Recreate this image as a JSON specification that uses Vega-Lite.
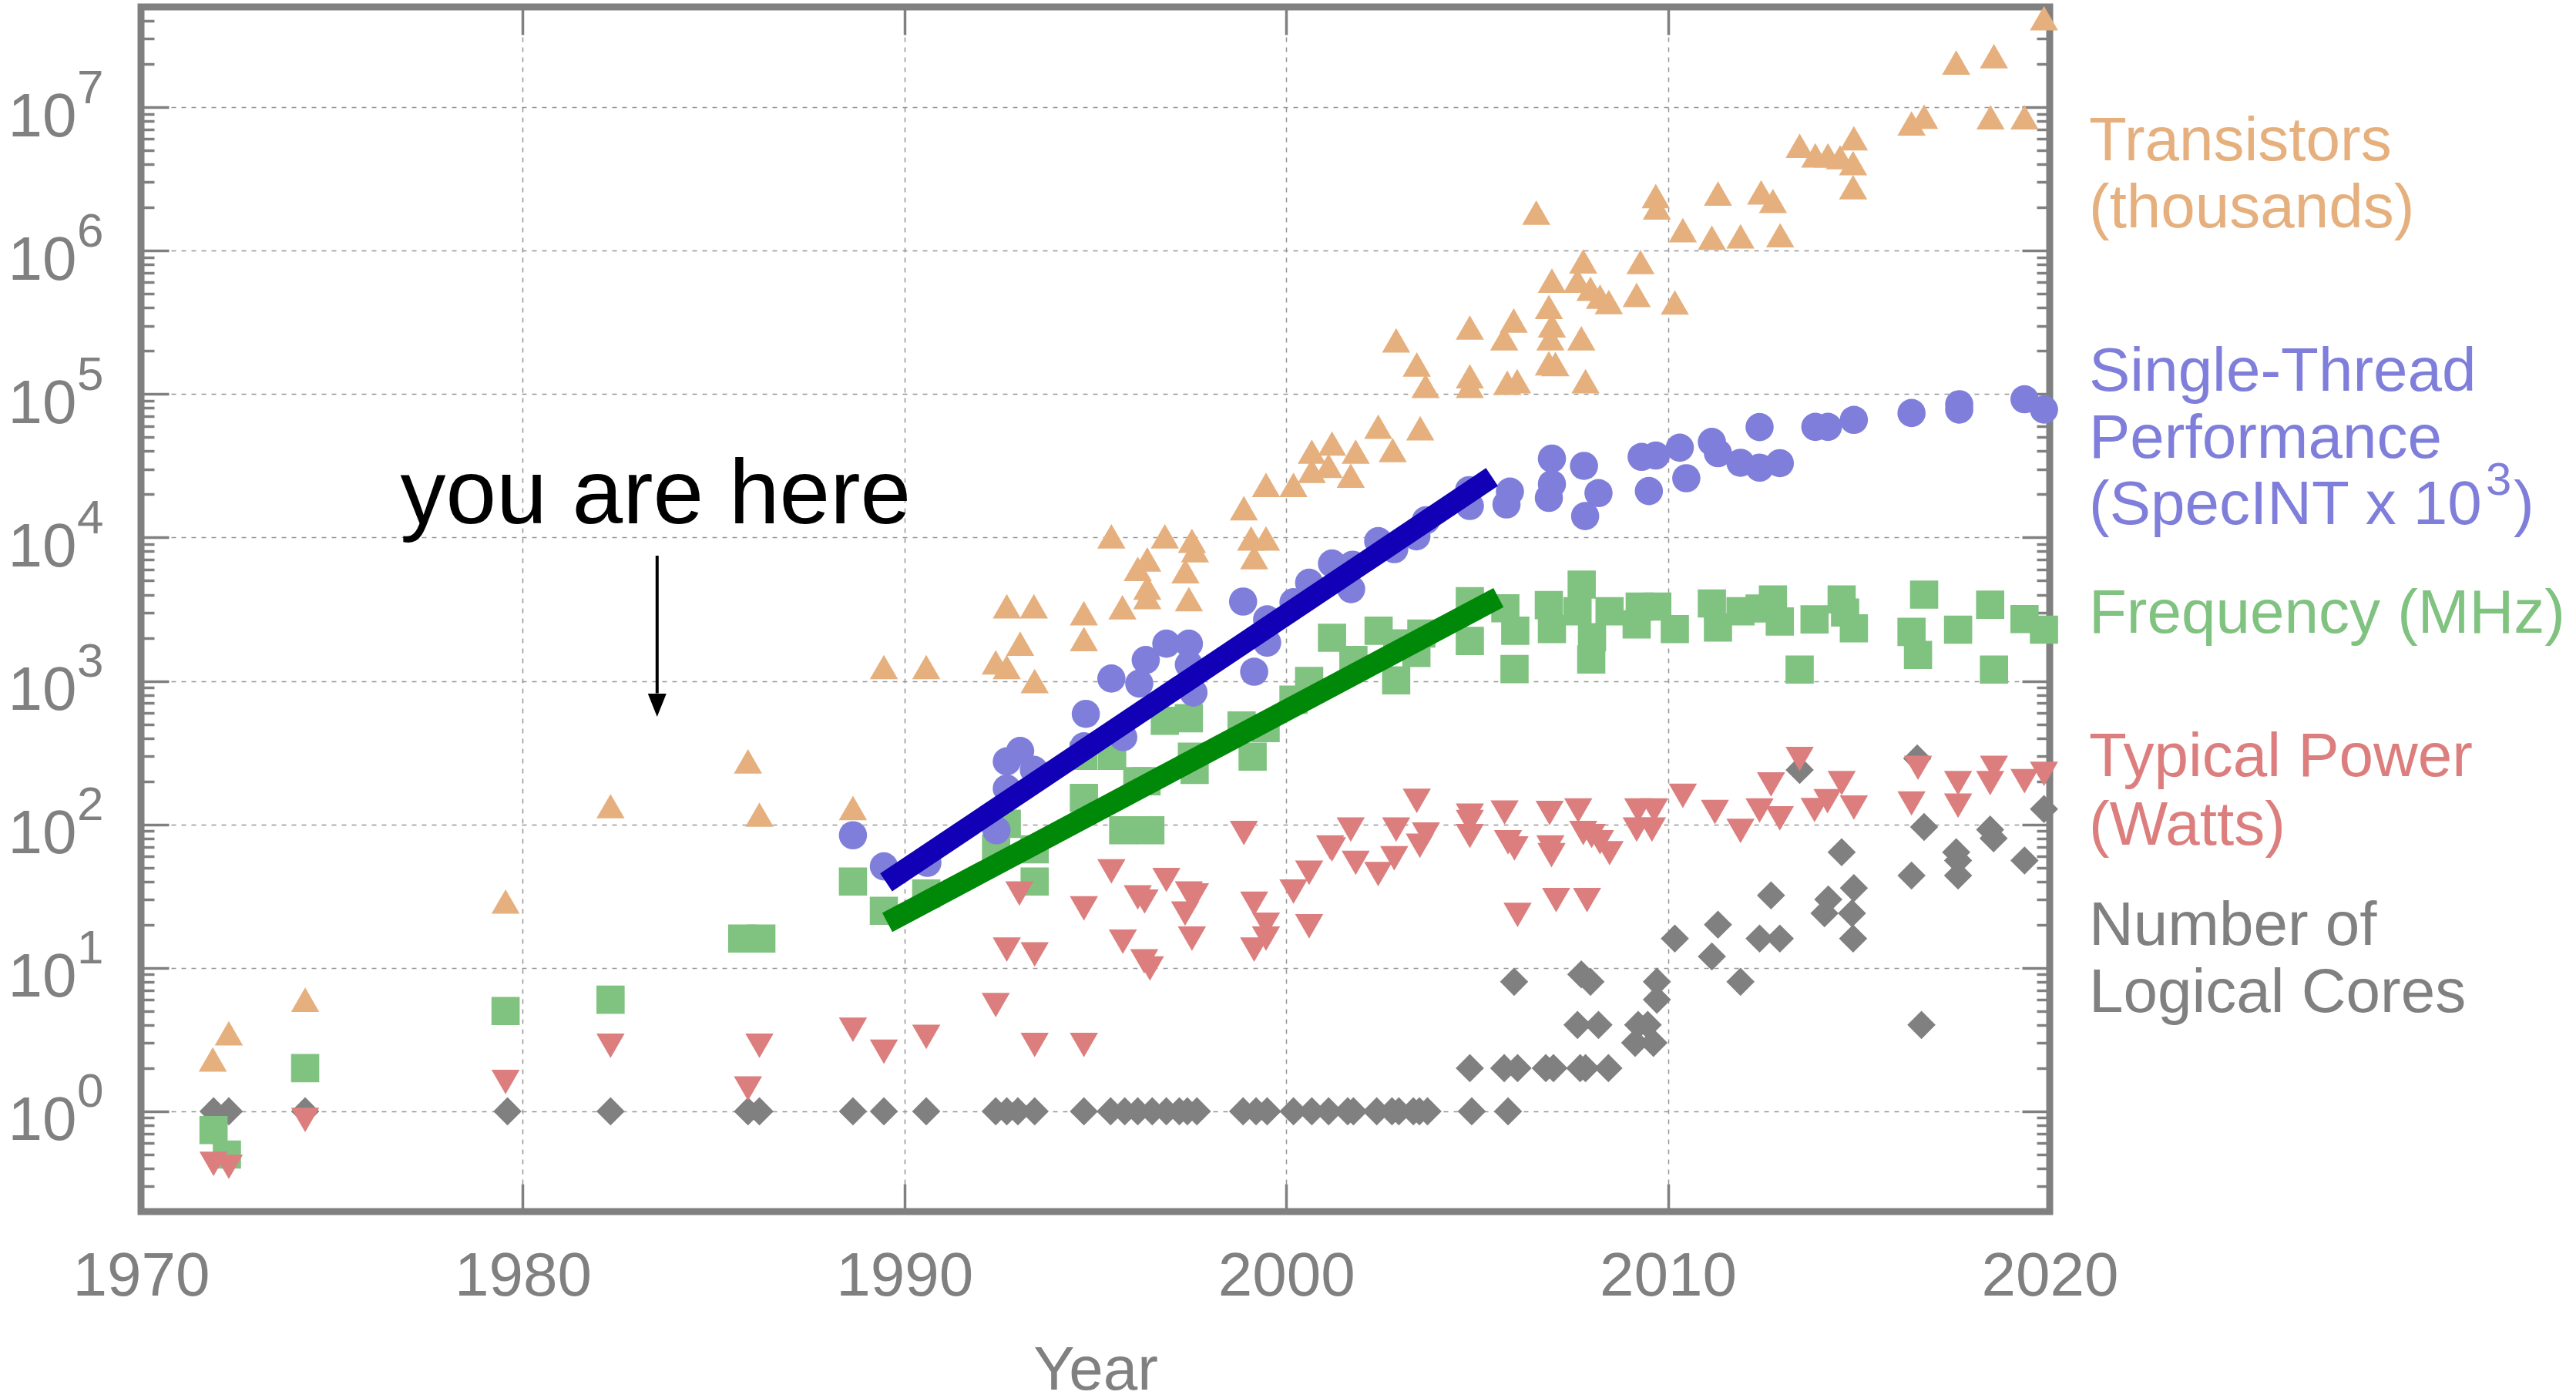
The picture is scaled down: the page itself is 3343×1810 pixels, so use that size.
{
  "$schema": "https://vega.github.io/schema/vega-lite/v6.json",
  "width": 2477,
  "height": 1563,
  "autosize": {"type": "none"},
  "padding": {"left": 183, "top": 9, "right": 683, "bottom": 238},
  "background": "white",
  "config": {
    "view": {"stroke": "#808080", "strokeWidth": 9},
    "axis": {
      "labelFont": "Liberation Sans",
      "titleFont": "Liberation Sans",
      "labelColor": "#808080",
      "titleColor": "#808080",
      "tickColor": "#808080",
      "tickWidth": 3.5,
      "gridColor": "#959595",
      "gridWidth": 1.5,
      "gridDash": [6, 7],
      "labelFontSize": 80,
      "titleFontSize": 80,
      "titleFontWeight": "normal",
      "labelFlush": false,
      "labelOverlap": false,
      "domain": false
    }
  },
  "datasets": {
    "pts": [
      {"series":"cores","year":1971.9,"value":1},{"series":"cores","year":1972.3,"value":1},{"series":"cores","year":1974.3,"value":1},{"series":"cores","year":1979.6,"value":1},{"series":"cores","year":1982.3,"value":1},{"series":"cores","year":1985.9,"value":1},{"series":"cores","year":1986.2,"value":1},{"series":"cores","year":1988.65,"value":1},{"series":"cores","year":1989.46,"value":1},{"series":"cores","year":1990.57,"value":1},{"series":"cores","year":1992.39,"value":1},{"series":"cores","year":1992.68,"value":1},{"series":"cores","year":1992.97,"value":1},{"series":"cores","year":1993.41,"value":1},{"series":"cores","year":1994.7,"value":1},{"series":"cores","year":1995.4,"value":1},{"series":"cores","year":1995.77,"value":1},{"series":"cores","year":1996.11,"value":1},{"series":"cores","year":1996.49,"value":1},{"series":"cores","year":1996.86,"value":1},{"series":"cores","year":1997.2,"value":1},{"series":"cores","year":1997.41,"value":1},{"series":"cores","year":1997.66,"value":1},{"series":"cores","year":1998.87,"value":1},{"series":"cores","year":1999.21,"value":1},{"series":"cores","year":1999.5,"value":1},{"series":"cores","year":2000.19,"value":1},{"series":"cores","year":2000.67,"value":1},{"series":"cores","year":2001.11,"value":1},{"series":"cores","year":2001.61,"value":1},{"series":"cores","year":2001.76,"value":1},{"series":"cores","year":2002.37,"value":1},{"series":"cores","year":2002.77,"value":1},{"series":"cores","year":2002.95,"value":1},{"series":"cores","year":2003.33,"value":1},{"series":"cores","year":2003.49,"value":1},{"series":"cores","year":2003.7,"value":1},{"series":"cores","year":2004.86,"value":1},{"series":"cores","year":2005.81,"value":1},
      {"series":"cores","year":2004.81,"value":2},{"series":"cores","year":2005.71,"value":2},{"series":"cores","year":2006.06,"value":2},{"series":"cores","year":2006.8,"value":2},{"series":"cores","year":2007.0,"value":2},{"series":"cores","year":2007.7,"value":2},{"series":"cores","year":2007.84,"value":2},{"series":"cores","year":2008.44,"value":2},
      {"series":"cores","year":2005.97,"value":8},{"series":"cores","year":2007.73,"value":9},{"series":"cores","year":2007.97,"value":8},{"series":"cores","year":2007.63,"value":4},{"series":"cores","year":2008.18,"value":4},{"series":"cores","year":2009.22,"value":4},{"series":"cores","year":2009.47,"value":4},{"series":"cores","year":2009.14,"value":3},{"series":"cores","year":2009.62,"value":3},{"series":"cores","year":2009.71,"value":8},{"series":"cores","year":2009.71,"value":6},{"series":"cores","year":2010.18,"value":16},{"series":"cores","year":2011.31,"value":20},{"series":"cores","year":2011.15,"value":12},{"series":"cores","year":2011.9,"value":8},{"series":"cores","year":2012.4,"value":16},{"series":"cores","year":2012.7,"value":32},{"series":"cores","year":2012.93,"value":16},
      {"series":"cores","year":2013.45,"value":240},{"series":"cores","year":2014.1,"value":24},{"series":"cores","year":2014.2,"value":30},{"series":"cores","year":2014.55,"value":64},{"series":"cores","year":2014.87,"value":36},{"series":"cores","year":2014.82,"value":24},{"series":"cores","year":2014.85,"value":16},{"series":"cores","year":2016.38,"value":44},{"series":"cores","year":2016.53,"value":288},{"series":"cores","year":2016.71,"value":96},{"series":"cores","year":2016.64,"value":4},{"series":"cores","year":2017.55,"value":64},{"series":"cores","year":2017.6,"value":56},{"series":"cores","year":2017.6,"value":44},{"series":"cores","year":2018.44,"value":92},{"series":"cores","year":2018.53,"value":80},{"series":"cores","year":2019.34,"value":56},{"series":"cores","year":2019.85,"value":128},

      {"series":"transistors","year":1971.88,"value":2.3},{"series":"transistors","year":1972.3,"value":3.5},{"series":"transistors","year":1974.3,"value":6},{"series":"transistors","year":1979.55,"value":29},{"series":"transistors","year":1982.3,"value":134},{"series":"transistors","year":1985.9,"value":275},{"series":"transistors","year":1986.2,"value":117},{"series":"transistors","year":1988.65,"value":130},{"series":"transistors","year":1989.46,"value":1250},{"series":"transistors","year":1990.57,"value":1250},{"series":"transistors","year":1992.39,"value":1350},{"series":"transistors","year":1992.68,"value":1250},{"series":"transistors","year":1992.68,"value":3320},{"series":"transistors","year":1993.39,"value":3320},{"series":"transistors","year":1993.03,"value":1820},{"series":"transistors","year":1993.41,"value":1000},{"series":"transistors","year":1994.7,"value":2970},{"series":"transistors","year":1994.7,"value":1960},{"series":"transistors","year":1995.42,"value":10200},{"series":"transistors","year":1995.71,"value":3270},{"series":"transistors","year":1996.11,"value":6050},{"series":"transistors","year":1996.36,"value":7030},{"series":"transistors","year":1996.36,"value":4480},{"series":"transistors","year":1996.36,"value":3850},{"series":"transistors","year":1996.82,"value":10200},{"series":"transistors","year":1997.53,"value":9480},{"series":"transistors","year":1997.61,"value":8170},{"series":"transistors","year":1997.36,"value":5830},{"series":"transistors","year":1997.45,"value":3720},{"series":"transistors","year":1998.89,"value":16000},{"series":"transistors","year":1999.16,"value":7300},{"series":"transistors","year":1999.08,"value":9850},{"series":"transistors","year":1999.47,"value":9850},{"series":"transistors","year":1999.47,"value":23300},{"series":"transistors","year":2000.19,"value":23300},{"series":"transistors","year":2000.67,"value":39700},{"series":"transistors","year":2000.67,"value":29200},{"series":"transistors","year":2001.11,"value":31600},{"series":"transistors","year":2001.2,"value":45200},{"series":"transistors","year":2001.82,"value":39700},{"series":"transistors","year":2001.69,"value":27000},{"series":"transistors","year":2002.41,"value":59300},{"series":"transistors","year":2002.79,"value":40700},{"series":"transistors","year":2003.51,"value":57800},{"series":"transistors","year":2002.88,"value":237000},{"series":"transistors","year":2003.42,"value":161000},{"series":"transistors","year":2003.65,"value":114000},{"series":"transistors","year":2004.81,"value":291000},{"series":"transistors","year":2004.81,"value":133000},{"series":"transistors","year":2004.81,"value":114000},{"series":"transistors","year":2005.71,"value":245000},{"series":"transistors","year":2005.96,"value":326000},{"series":"transistors","year":2005.79,"value":120000},{"series":"transistors","year":2006.05,"value":123000},{"series":"transistors","year":2006.88,"value":405000},{"series":"transistors","year":2006.96,"value":301000},{"series":"transistors","year":2006.92,"value":245000},{"series":"transistors","year":2006.88,"value":164000},{"series":"transistors","year":2007.05,"value":162000},{"series":"transistors","year":2006.96,"value":618000},{"series":"transistors","year":2006.55,"value":1840000},{"series":"transistors","year":2007.63,"value":618000},{"series":"transistors","year":2007.78,"value":841000},{"series":"transistors","year":2007.97,"value":543000},{"series":"transistors","year":2008.22,"value":478000},{"series":"transistors","year":2008.45,"value":438000},{"series":"transistors","year":2007.73,"value":245000},{"series":"transistors","year":2007.84,"value":123000},{"series":"transistors","year":2009.18,"value":491000},{"series":"transistors","year":2009.28,"value":833000},{"series":"transistors","year":2010.18,"value":436000},{"series":"transistors","year":2009.68,"value":2400000},{"series":"transistors","year":2009.71,"value":2000000},{"series":"transistors","year":2010.39,"value":1390000},{"series":"transistors","year":2011.15,"value":1230000},{"series":"transistors","year":2011.31,"value":2500000},{"series":"transistors","year":2011.9,"value":1260000},{"series":"transistors","year":2012.44,"value":2550000},{"series":"transistors","year":2012.75,"value":2220000},{"series":"transistors","year":2012.94,"value":1280000},{"series":"transistors","year":2013.45,"value":5380000},{"series":"transistors","year":2013.86,"value":4610000},{"series":"transistors","year":2014.19,"value":4610000},{"series":"transistors","year":2014.51,"value":4480000},{"series":"transistors","year":2014.87,"value":6080000},{"series":"transistors","year":2014.85,"value":4080000},{"series":"transistors","year":2014.85,"value":2770000},{"series":"transistors","year":2016.38,"value":7710000},{"series":"transistors","year":2016.71,"value":8600000},{"series":"transistors","year":2017.55,"value":20500000},{"series":"transistors","year":2018.54,"value":22700000},{"series":"transistors","year":2018.45,"value":8510000},{"series":"transistors","year":2019.34,"value":8510000},{"series":"transistors","year":2019.85,"value":41700000},

      {"series":"frequency","year":1971.9,"value":0.74},{"series":"frequency","year":1972.25,"value":0.5},{"series":"frequency","year":1974.3,"value":2},{"series":"frequency","year":1979.55,"value":5},{"series":"frequency","year":1982.3,"value":6},{"series":"frequency","year":1985.75,"value":16},{"series":"frequency","year":1986.25,"value":16},{"series":"frequency","year":1988.65,"value":40},{"series":"frequency","year":1989.46,"value":25},{"series":"frequency","year":1990.57,"value":33},{"series":"frequency","year":1992.4,"value":68},{"series":"frequency","year":1992.68,"value":101},{"series":"frequency","year":1993.41,"value":67},{"series":"frequency","year":1993.41,"value":40},{"series":"frequency","year":1994.7,"value":153},{"series":"frequency","year":1994.69,"value":301},{"series":"frequency","year":1995.44,"value":301},{"series":"frequency","year":1995.73,"value":91},{"series":"frequency","year":1996.44,"value":91},{"series":"frequency","year":1996.1,"value":200},{"series":"frequency","year":1996.34,"value":200},{"series":"frequency","year":1996.82,"value":528},{"series":"frequency","year":1997.45,"value":550},{"series":"frequency","year":1997.53,"value":297},{"series":"frequency","year":1997.6,"value":240},{"series":"frequency","year":1998.83,"value":490},{"series":"frequency","year":1999.46,"value":470},{"series":"frequency","year":1999.12,"value":297},{"series":"frequency","year":2000.19,"value":740},{"series":"frequency","year":2000.6,"value":1000},{"series":"frequency","year":2001.2,"value":2000},{"series":"frequency","year":2001.76,"value":1400},{"series":"frequency","year":2002.42,"value":2240},{"series":"frequency","year":2002.91,"value":1830},{"series":"frequency","year":2003.54,"value":2140},{"series":"frequency","year":2003.41,"value":1570},{"series":"frequency","year":2002.88,"value":1010},{"series":"frequency","year":2004.81,"value":3600},{"series":"frequency","year":2004.81,"value":1900},{"series":"frequency","year":2005.74,"value":3210},{"series":"frequency","year":2006.0,"value":2240},{"series":"frequency","year":2005.98,"value":1210},{"series":"frequency","year":2006.88,"value":3380},{"series":"frequency","year":2006.96,"value":2300},{"series":"frequency","year":2007.74,"value":4700},{"series":"frequency","year":2007.63,"value":3060},{"series":"frequency","year":2008.47,"value":3060},{"series":"frequency","year":2008.01,"value":2020},{"series":"frequency","year":2007.99,"value":1410},{"series":"frequency","year":2009.26,"value":3300},{"series":"frequency","year":2009.72,"value":3300},{"series":"frequency","year":2009.18,"value":2480},{"series":"frequency","year":2010.18,"value":2300},{"series":"frequency","year":2011.15,"value":3470},{"series":"frequency","year":2011.31,"value":2360},{"series":"frequency","year":2011.9,"value":3060},{"series":"frequency","year":2012.4,"value":3200},{"series":"frequency","year":2012.75,"value":3700},{"series":"frequency","year":2012.93,"value":2600},{"series":"frequency","year":2013.45,"value":1200},{"series":"frequency","year":2013.84,"value":2690},{"series":"frequency","year":2014.55,"value":3700},{"series":"frequency","year":2014.64,"value":3000},{"series":"frequency","year":2014.87,"value":2330},{"series":"frequency","year":2016.38,"value":2200},{"series":"frequency","year":2016.71,"value":4000},{"series":"frequency","year":2016.55,"value":1520},{"series":"frequency","year":2017.6,"value":2280},{"series":"frequency","year":2018.44,"value":3400},{"series":"frequency","year":2018.54,"value":1200},{"series":"frequency","year":2019.34,"value":2700},{"series":"frequency","year":2019.85,"value":2280},

      {"series":"specint","year":1988.65,"value":84},{"series":"specint","year":1989.46,"value":51},{"series":"specint","year":1990.6,"value":54},{"series":"specint","year":1992.41,"value":91},{"series":"specint","year":1992.68,"value":178},{"series":"specint","year":1992.68,"value":275},{"series":"specint","year":1993.03,"value":325},{"series":"specint","year":1993.39,"value":240},{"series":"specint","year":1994.75,"value":590},{"series":"specint","year":1994.7,"value":350},{"series":"specint","year":1995.42,"value":1040},{"series":"specint","year":1995.73,"value":406},{"series":"specint","year":1996.15,"value":960},{"series":"specint","year":1996.32,"value":1400},{"series":"specint","year":1996.86,"value":1820},{"series":"specint","year":1997.45,"value":1820},{"series":"specint","year":1997.45,"value":1300},{"series":"specint","year":1997.57,"value":830},{"series":"specint","year":1998.87,"value":3580},{"series":"specint","year":1999.16,"value":1160},{"series":"specint","year":1999.5,"value":2690},{"series":"specint","year":1999.5,"value":1850},{"series":"specint","year":2000.19,"value":3540},{"series":"specint","year":2000.6,"value":4840},{"series":"specint","year":2001.2,"value":6590},{"series":"specint","year":2001.7,"value":4370},{"series":"specint","year":2001.74,"value":6460},{"series":"specint","year":2002.41,"value":9440},{"series":"specint","year":2002.83,"value":8300},{"series":"specint","year":2003.41,"value":10200},{"series":"specint","year":2003.66,"value":13200},{"series":"specint","year":2004.81,"value":16600},{"series":"specint","year":2004.79,"value":21400},{"series":"specint","year":2005.77,"value":17000},{"series":"specint","year":2005.86,"value":20900},{"series":"specint","year":2006.88,"value":18900},{"series":"specint","year":2006.96,"value":23600},{"series":"specint","year":2006.96,"value":35500},{"series":"specint","year":2007.8,"value":31600},{"series":"specint","year":2008.18,"value":20400},{"series":"specint","year":2007.83,"value":14100},{"series":"specint","year":2009.31,"value":36500},{"series":"specint","year":2009.68,"value":37300},{"series":"specint","year":2009.5,"value":21100},{"series":"specint","year":2010.31,"value":42300},{"series":"specint","year":2010.48,"value":25900},{"series":"specint","year":2011.15,"value":46400},{"series":"specint","year":2011.31,"value":38700},{"series":"specint","year":2011.9,"value":33200},{"series":"specint","year":2012.4,"value":58900},{"series":"specint","year":2012.4,"value":30700},{"series":"specint","year":2012.93,"value":33000},{"series":"specint","year":2013.86,"value":59100},{"series":"specint","year":2014.19,"value":59100},{"series":"specint","year":2014.87,"value":66100},{"series":"specint","year":2016.38,"value":73800},{"series":"specint","year":2017.63,"value":85000},{"series":"specint","year":2017.63,"value":78000},{"series":"specint","year":2019.34,"value":92000},{"series":"specint","year":2019.85,"value":78000},

      {"series":"power","year":1971.9,"value":0.43},{"series":"power","year":1972.3,"value":0.41},{"series":"power","year":1974.3,"value":0.87},{"series":"power","year":1979.55,"value":1.6},{"series":"power","year":1982.3,"value":2.86},{"series":"power","year":1985.9,"value":1.44},{"series":"power","year":1986.2,"value":2.86},{"series":"power","year":1988.65,"value":3.7},{"series":"power","year":1989.46,"value":2.6},{"series":"power","year":1990.57,"value":3.3},{"series":"power","year":1992.39,"value":5.5},{"series":"power","year":1993.01,"value":33},{"series":"power","year":1992.68,"value":13.4},{"series":"power","year":1993.41,"value":12.4},{"series":"power","year":1993.41,"value":2.9},{"series":"power","year":1994.7,"value":2.9},{"series":"power","year":1994.7,"value":26},{"series":"power","year":1995.42,"value":47},{"series":"power","year":1995.72,"value":15.2},{"series":"power","year":1996.11,"value":31},{"series":"power","year":1996.29,"value":29},{"series":"power","year":1996.28,"value":11.1},{"series":"power","year":1996.43,"value":9.9},{"series":"power","year":1996.86,"value":41},{"series":"power","year":1997.45,"value":33},{"series":"power","year":1997.61,"value":32},{"series":"power","year":1997.35,"value":23.9},{"series":"power","year":1997.53,"value":16},{"series":"power","year":1998.89,"value":87},{"series":"power","year":1999.16,"value":28},{"series":"power","year":1999.47,"value":20},{"series":"power","year":1999.16,"value":13.4},{"series":"power","year":1999.47,"value":16},{"series":"power","year":2000.19,"value":34},{"series":"power","year":2000.6,"value":46},{"series":"power","year":2000.6,"value":19.5},{"series":"power","year":2001.15,"value":69},{"series":"power","year":2001.2,"value":67},{"series":"power","year":2001.69,"value":92},{"series":"power","year":2001.82,"value":54},{"series":"power","year":2002.41,"value":45},{"series":"power","year":2002.83,"value":58},{"series":"power","year":2002.88,"value":92},{"series":"power","year":2003.42,"value":146},{"series":"power","year":2003.5,"value":71},{"series":"power","year":2003.66,"value":85},{"series":"power","year":2004.81,"value":115},{"series":"power","year":2004.81,"value":104},{"series":"power","year":2004.81,"value":83},{"series":"power","year":2005.72,"value":121},{"series":"power","year":2005.81,"value":75},{"series":"power","year":2005.98,"value":68},{"series":"power","year":2006.06,"value":23.4},{"series":"power","year":2006.9,"value":120},{"series":"power","year":2006.92,"value":69},{"series":"power","year":2006.95,"value":61},{"series":"power","year":2007.07,"value":29.7},{"series":"power","year":2007.65,"value":125},{"series":"power","year":2007.88,"value":29.7},{"series":"power","year":2007.78,"value":87},{"series":"power","year":2008.0,"value":83},{"series":"power","year":2008.22,"value":75},{"series":"power","year":2008.47,"value":63},{"series":"power","year":2009.22,"value":125},{"series":"power","year":2009.64,"value":125},{"series":"power","year":2009.18,"value":92},{"series":"power","year":2009.58,"value":92},{"series":"power","year":2010.39,"value":158},{"series":"power","year":2011.23,"value":122},{"series":"power","year":2011.9,"value":90},{"series":"power","year":2012.4,"value":125},{"series":"power","year":2012.7,"value":190},{"series":"power","year":2012.93,"value":110},{"series":"power","year":2013.45,"value":286},{"series":"power","year":2013.84,"value":126},{"series":"power","year":2014.18,"value":145},{"series":"power","year":2014.55,"value":194},{"series":"power","year":2014.87,"value":131},{"series":"power","year":2016.38,"value":140},{"series":"power","year":2016.55,"value":248},{"series":"power","year":2017.6,"value":194},{"series":"power","year":2017.6,"value":135},{"series":"power","year":2018.44,"value":194},{"series":"power","year":2018.54,"value":248},{"series":"power","year":2019.34,"value":200},{"series":"power","year":2019.85,"value":225}
    ],
    "trends": [
      {"line":"st","year":1989.52,"value":39.4},{"line":"st","year":2005.39,"value":26400},
      {"line":"freq","year":1989.55,"value":20.7},{"line":"freq","year":2005.56,"value":3815}
    ],
    "labels": [
      {"series":"transistors","label":"Transistors","value":4285000},
      {"series":"transistors","label":"(thousands)","value":1448000},
      {"series":"specint","label":"Single-Thread","value":106000},
      {"series":"specint","label":"Performance","value":36150},
      {"series":"specint","label":"(SpecINT x 10","value":12340},
      {"series":"frequency","label":"Frequency (MHz)","value":2155},
      {"series":"power","label":"Typical Power","value":217},
      {"series":"power","label":"(Watts)","value":72.6},
      {"series":"cores","label":"Number of","value":14.5},
      {"series":"cores","label":"Logical Cores","value":4.91}
    ]
  },
  "layer": [
    {
      "data": {"values": []},
      "mark": "point",
      "encoding": {
        "x": {"field": "year", "type": "quantitative", "scale": {"domain": [1970, 2020], "nice": false, "zero": false},
          "axis": {"orient": "bottom", "values": [1970, 1980, 1990, 2000, 2010, 2020], "format": "d", "ticks": false, "grid": false, "labelPadding": 108, "labelBaseline": "alphabetic", "title": "Year", "titleY": 230, "titleBaseline": "alphabetic"}},
        "y": {"field": "value", "type": "quantitative", "scale": {"type": "log", "domain": [0.2, 50000000], "nice": false},
          "axis": {"orient": "left", "values": [1, 10, 100, 1000, 10000, 100000, 1000000, 10000000], "labelExpr": "'10'", "ticks": false, "grid": false, "labelPadding": 84, "labelAlign": "right", "labelBaseline": "alphabetic", "labelOffset": 37, "title": null}}
      }
    },
    {
      "data": {"values": []},
      "mark": "point",
      "encoding": {
        "x": {"field": "year", "type": "quantitative", "scale": {"domain": [1970, 2020], "nice": false, "zero": false},
          "axis": {"orient": "bottom", "values": [1980, 1990, 2000, 2010], "labels": false, "ticks": true, "tickSize": -36, "grid": true, "title": null}},
        "y": {"field": "value", "type": "quantitative", "scale": {"type": "log", "domain": [0.2, 50000000], "nice": false},
          "axis": {"orient": "left", "values": [1, 10, 100, 1000, 10000, 100000, 1000000, 10000000], "labelExpr": "'' + round(log(datum.value) / LN10)", "labelFontSize": 62, "ticks": false, "grid": false, "labelPadding": 49, "labelAlign": "right", "labelBaseline": "alphabetic", "labelOffset": -6, "title": null}}
      }
    },
    {
      "data": {"values": []},
      "mark": "point",
      "encoding": {
        "x": {"field": "year", "type": "quantitative", "scale": {"domain": [1970, 2020], "nice": false, "zero": false},
          "axis": {"orient": "top", "values": [1980, 1990, 2000, 2010], "labels": false, "ticks": true, "tickSize": -36, "grid": false, "title": null}},
        "y": {"field": "value", "type": "quantitative", "scale": {"type": "log", "domain": [0.2, 50000000], "nice": false},
          "axis": {"orient": "left", "values": [1, 10, 100, 1000, 10000, 100000, 1000000, 10000000], "labels": false, "ticks": true, "tickSize": -36, "grid": true, "title": null}}
      }
    },
    {
      "data": {"values": []},
      "mark": "point",
      "encoding": {
        "x": {"field": "year", "type": "quantitative", "scale": {"domain": [1970, 2020], "nice": false, "zero": false}, "axis": null},
        "y": {"field": "value", "type": "quantitative", "scale": {"type": "log", "domain": [0.2, 50000000], "nice": false},
          "axis": {"orient": "left", "values": [0.2,0.3,0.4,0.5,0.6,0.7,0.8,0.9,2,3,4,5,6,7,8,9,20,30,40,50,60,70,80,90,200,300,400,500,600,700,800,900,2000,3000,4000,5000,6000,7000,8000,9000,20000,30000,40000,50000,60000,70000,80000,90000,200000,300000,400000,500000,600000,700000,800000,900000,2000000,3000000,4000000,5000000,6000000,7000000,8000000,9000000,20000000,30000000,40000000], "labels": false, "ticks": true, "tickSize": -17, "grid": false, "title": null}}
      }
    },
    {
      "data": {"values": []},
      "mark": "point",
      "encoding": {
        "x": {"field": "year", "type": "quantitative", "scale": {"domain": [1970, 2020], "nice": false, "zero": false}, "axis": null},
        "y": {"field": "value", "type": "quantitative", "scale": {"type": "log", "domain": [0.2, 50000000], "nice": false},
          "axis": {"orient": "right", "values": [1, 10, 100, 1000, 10000, 100000, 1000000, 10000000], "labels": false, "ticks": true, "tickSize": -36, "grid": false, "title": null}}
      }
    },
    {
      "data": {"values": []},
      "mark": "point",
      "encoding": {
        "x": {"field": "year", "type": "quantitative", "scale": {"domain": [1970, 2020], "nice": false, "zero": false}, "axis": null},
        "y": {"field": "value", "type": "quantitative", "scale": {"type": "log", "domain": [0.2, 50000000], "nice": false},
          "axis": {"orient": "right", "values": [0.2,0.3,0.4,0.5,0.6,0.7,0.8,0.9,2,3,4,5,6,7,8,9,20,30,40,50,60,70,80,90,200,300,400,500,600,700,800,900,2000,3000,4000,5000,6000,7000,8000,9000,20000,30000,40000,50000,60000,70000,80000,90000,200000,300000,400000,500000,600000,700000,800000,900000,2000000,3000000,4000000,5000000,6000000,7000000,8000000,9000000,20000000,30000000,40000000], "labels": false, "ticks": true, "tickSize": -17, "grid": false, "title": null}}
      }
    },
    {
      "data": {"name": "pts"},
      "mark": {"type": "point", "filled": true, "opacity": 1, "size": 1340, "strokeWidth": 0},
      "encoding": {
        "x": {"field": "year", "type": "quantitative", "scale": {"domain": [1970, 2020], "nice": false, "zero": false}, "axis": null},
        "y": {"field": "value", "type": "quantitative", "scale": {"type": "log", "domain": [0.2, 50000000], "nice": false}, "axis": null},
        "color": {"field": "series", "type": "nominal", "scale": {"domain": ["cores", "transistors", "frequency", "specint", "power"], "range": ["#808080", "#E5B07D", "#80C280", "#7F7FDB", "#DC7E7E"]}, "legend": null},
        "shape": {"field": "series", "type": "nominal", "scale": {"domain": ["cores", "transistors", "frequency", "specint", "power"], "range": ["diamond", "triangle-up", "square", "circle", "triangle-down"]}, "legend": null}
      }
    },
    {
      "data": {"name": "trends"},
      "transform": [{"filter": "datum.line === 'st'"}],
      "mark": {"type": "line", "color": "#1100B5", "strokeWidth": 28, "strokeCap": "butt"},
      "encoding": {
        "x": {"field": "year", "type": "quantitative", "scale": {"domain": [1970, 2020], "nice": false, "zero": false}, "axis": null},
        "y": {"field": "value", "type": "quantitative", "scale": {"type": "log", "domain": [0.2, 50000000], "nice": false}, "axis": null}
      }
    },
    {
      "data": {"name": "trends"},
      "transform": [{"filter": "datum.line === 'freq'"}],
      "mark": {"type": "line", "color": "#008808", "strokeWidth": 28, "strokeCap": "butt"},
      "encoding": {
        "x": {"field": "year", "type": "quantitative", "scale": {"domain": [1970, 2020], "nice": false, "zero": false}, "axis": null},
        "y": {"field": "value", "type": "quantitative", "scale": {"type": "log", "domain": [0.2, 50000000], "nice": false}, "axis": null}
      }
    },
    {
      "data": {"values": [{"year": 1983.52, "value": 7480, "value2": 820}]},
      "mark": {"type": "rule", "color": "black", "strokeWidth": 4},
      "encoding": {
        "x": {"field": "year", "type": "quantitative", "scale": {"domain": [1970, 2020], "nice": false, "zero": false}, "axis": null},
        "y": {"field": "value", "type": "quantitative", "scale": {"type": "log", "domain": [0.2, 50000000], "nice": false}, "axis": null},
        "y2": {"field": "value2"}
      }
    },
    {
      "data": {"values": [{"year": 1983.52, "value": 563}]},
      "mark": {"type": "point", "shape": "M0,0L-0.6,-1.5L0.6,-1.5Z", "size": 1600, "filled": true, "color": "black", "opacity": 1, "strokeWidth": 0},
      "encoding": {
        "x": {"field": "year", "type": "quantitative", "scale": {"domain": [1970, 2020], "nice": false, "zero": false}, "axis": null},
        "y": {"field": "value", "type": "quantitative", "scale": {"type": "log", "domain": [0.2, 50000000], "nice": false}, "axis": null}
      }
    },
    {
      "data": {"values": [{"year": 1983.48, "value": 12500, "label": "you are here"}]},
      "mark": {"type": "text", "font": "Liberation Sans", "fontSize": 118, "color": "black", "align": "center", "baseline": "alphabetic"},
      "encoding": {
        "x": {"field": "year", "type": "quantitative", "scale": {"domain": [1970, 2020], "nice": false, "zero": false}, "axis": null},
        "y": {"field": "value", "type": "quantitative", "scale": {"type": "log", "domain": [0.2, 50000000], "nice": false}, "axis": null},
        "text": {"field": "label"}
      }
    },
    {
      "data": {"name": "labels"},
      "mark": {"type": "text", "font": "Liberation Sans", "fontSize": 80, "align": "left", "baseline": "alphabetic", "dx": 51},
      "encoding": {
        "x": {"datum": 2020, "type": "quantitative", "scale": {"domain": [1970, 2020], "nice": false, "zero": false}, "axis": null},
        "y": {"field": "value", "type": "quantitative", "scale": {"type": "log", "domain": [0.2, 50000000], "nice": false}, "axis": null},
        "text": {"field": "label"},
        "color": {"field": "series", "type": "nominal", "scale": {"domain": ["cores", "transistors", "frequency", "specint", "power"], "range": ["#808080", "#E5B07D", "#80C280", "#7F7FDB", "#DC7E7E"]}, "legend": null}
      }
    },
    {
      "data": {"values": [{"series": "specint", "label": "3", "value": 12340}]},
      "mark": {"type": "text", "font": "Liberation Sans", "fontSize": 60, "align": "left", "baseline": "alphabetic", "dx": 566, "dy": -38},
      "encoding": {
        "x": {"datum": 2020, "type": "quantitative", "scale": {"domain": [1970, 2020], "nice": false, "zero": false}, "axis": null},
        "y": {"field": "value", "type": "quantitative", "scale": {"type": "log", "domain": [0.2, 50000000], "nice": false}, "axis": null},
        "text": {"field": "label"},
        "color": {"field": "series", "type": "nominal", "scale": {"domain": ["cores", "transistors", "frequency", "specint", "power"], "range": ["#808080", "#E5B07D", "#80C280", "#7F7FDB", "#DC7E7E"]}, "legend": null}
      }
    },
    {
      "data": {"values": [{"series": "specint", "label": ")", "value": 12340}]},
      "mark": {"type": "text", "font": "Liberation Sans", "fontSize": 80, "align": "left", "baseline": "alphabetic", "dx": 602},
      "encoding": {
        "x": {"datum": 2020, "type": "quantitative", "scale": {"domain": [1970, 2020], "nice": false, "zero": false}, "axis": null},
        "y": {"field": "value", "type": "quantitative", "scale": {"type": "log", "domain": [0.2, 50000000], "nice": false}, "axis": null},
        "text": {"field": "label"},
        "color": {"field": "series", "type": "nominal", "scale": {"domain": ["cores", "transistors", "frequency", "specint", "power"], "range": ["#808080", "#E5B07D", "#80C280", "#7F7FDB", "#DC7E7E"]}, "legend": null}
      }
    }
  ],
  "resolve": {"axis": {"x": "independent", "y": "independent"}}
}
